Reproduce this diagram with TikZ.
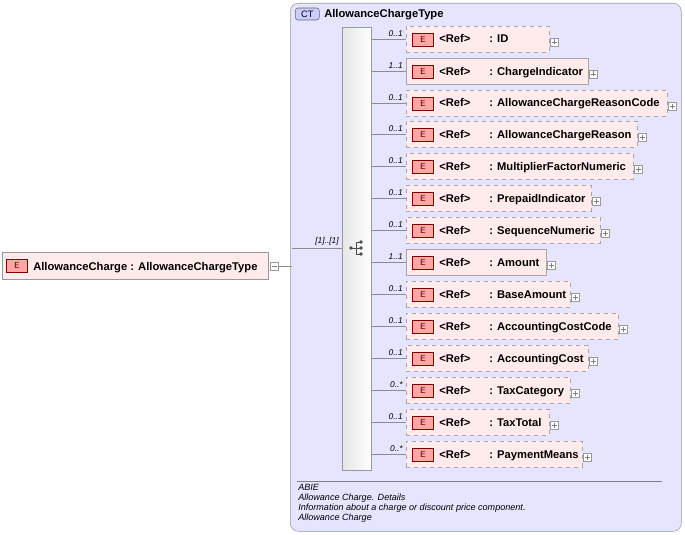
\documentclass[tikz,border=0pt]{standalone}
\usepackage{fontspec}
\setmainfont{Liberation Sans}
\begin{document}
\begin{tikzpicture}[x=0.75pt,y=-0.75pt,
  elem/.style={draw=black!35,fill=red!8,inner sep=0pt},
  opt/.style={elem,dashed},
  eicon/.style={draw=red!50!black,fill=red!35,minimum width=15.5pt,minimum height=10pt,inner sep=0pt,font=\sffamily\fontsize{6.5}{7}\selectfont,text=red!40!black},
  txt/.style={font=\bfseries\fontsize{8.4}{9}\selectfont,inner sep=0pt,anchor=base west},
  mult/.style={font=\itshape\fontsize{6.3}{7}\selectfont,inner sep=0pt,anchor=south east},
  plus/.style={draw=black!40,fill=white,minimum size=6pt,inner sep=0pt},
  conn/.style={draw=black!45,line width=0.5pt}]
\useasboundingbox (0,0) rectangle (685,535);
% CT box
\node[draw=black!40,fill=blue!10,rounded corners=6pt,minimum width=293.25pt,minimum height=396pt,inner sep=0pt,anchor=north west] (ct) at (290,3) {};
\node[draw=black!60,fill=blue!20,rounded corners=2pt,minimum width=18pt,minimum height=9pt,inner sep=0pt,font=\fontsize{7}{8}\selectfont,anchor=west] (cti) at (295,14) {CT};
\node[txt] (ctn) at (324,18) {AllowanceChargeType};
% sequence bar
\node[draw=black!40,left color=black!10,right color=white,minimum width=21.75pt,minimum height=332.25pt,inner sep=0pt,anchor=north west] (seq) at (342,27) {};
\node[inner sep=0pt] (seqicon) at (357,248) {};
\draw[black!70] (351,248) -- (356,248) (356,242) -- (356,254) (356,242) -- (360,242) (356,248) -- (360,248) (356,254) -- (360,254);
\fill[black!70] (351,248) circle (1.4pt) (361,242) circle (1.4pt) (361,248) circle (1.4pt) (361,254) circle (1.4pt);
% main element
\node[elem,minimum width=199.5pt,minimum height=20pt,anchor=west,draw=black!40] (main) at (2,266) {};
\node[eicon] (mainE) at (17,266) {E};
\node[txt] (mainT) at (33,270) {AllowanceCharge : AllowanceChargeType};
\node[plus] (minus) at (274,266) {};
\draw[black!50] (271.5,266) -- (276.5,266);
\coordinate (ctl) at (292,266);
\coordinate (ctl2) at (292,248);
\draw[conn] (minus.east) -- (ctl) ;
\draw[conn] (ctl2) -- (seq.west |- ctl2);
\node[mult] (m0) at (339,246) {[1]..[1]};
% children
\foreach \i/\y/\r/\nm/\m/\st in {
 1/39/549/ID/0..1/opt,
 2/71/588/ChargeIndicator/1..1/elem,
 3/103/667/AllowanceChargeReasonCode/0..1/opt,
 4/134/637/AllowanceChargeReason/0..1/opt,
 5/166/633/MultiplierFactorNumeric/0..1/opt,
 6/198/591/PrepaidIndicator/0..1/opt,
 7/230/600/SequenceNumeric/0..1/opt,
 8/262/546/Amount/1..1/elem,
 9/294/570/BaseAmount/0..1/opt,
 10/326/618/AccountingCostCode/0..1/opt,
 11/358/588/AccountingCost/0..1/opt,
 12/390/570/TaxCategory/0..*/opt,
 13/422/549/TaxTotal/0..1/opt,
 14/454/582/PaymentMeans/0..*/opt}{
  \pgfmathsetmacro\w{(\r-406)*0.75}
  \node[\st,minimum width=\w pt,minimum height=19.5pt,anchor=west] (c\i) at (406,\y) {};
  \node[eicon] (e\i) at (423,\y+1) {E};
  \node[txt] (r\i) at (439,\y+4) {<Ref>};
  \node[txt] (n\i) at (489,\y+4) {: \nm};
  \node[plus] (p\i) at (\r+5,\y+3) {};
  \draw[black!50] (\r+2.5,\y+3) -- (\r+7.5,\y+3) (\r+5,\y+0.5) -- (\r+5,\y+5.5);
  \draw[conn] (seq.east |- c\i.west) -- (c\i.west);
  \node[mult] (mm\i) at (403,\y-2) {\m};
}
% annotation
\coordinate (s1) at (297,481);
\coordinate (s2) at (662,481);
\draw[black!50] (s1) -- (s2);
\node[anchor=north west,inner sep=0pt,align=left,font=\itshape\fontsize{6.8}{7.6}\selectfont] (ann) at (298,484) {ABIE\\Allowance Charge. Details\\Information about a charge or discount price component.\\Allowance Charge};
\end{tikzpicture}
\end{document}
